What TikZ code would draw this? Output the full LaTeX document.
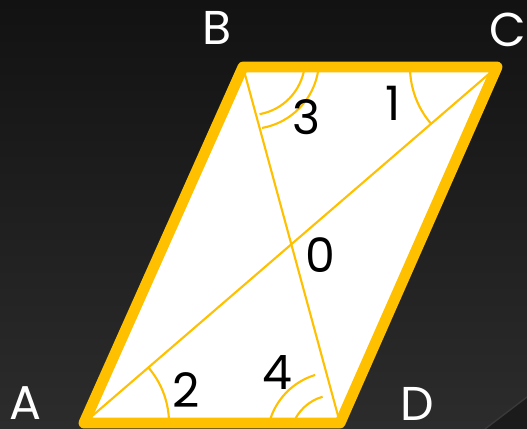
\documentclass[tikz,border=0pt]{standalone}
\usepackage{fontspec}
\setmainfont{Poppins}
\usetikzlibrary{calc}
\definecolor{rimorange}{HTML}{FFC000}
\definecolor{bgtop}{HTML}{121212}
\definecolor{bgbot}{HTML}{2C2C2C}
\definecolor{bgcorner}{HTML}{1B1B1B}
\begin{document}
\begin{tikzpicture}[
    x=0.02cm, y=0.02cm,
    vertex/.style={
        text=white, inner sep=0pt,
        font=\fontsize{27}{30}\selectfont
    },
    num/.style={
        text=black, inner sep=0pt,
        font=\fontsize{27}{30}\selectfont
    },
    diag/.style={draw=rimorange, line width=1.2pt},
    anglearc/.style={draw=rimorange, line width=1.2pt},
    rim/.style={draw=rimorange, line width=6.2pt, line join=round}
]
\useasboundingbox (0,0) rectangle (527,429);
\shade[top color=bgtop, bottom color=bgbot] (0,0) rectangle (527,429);
\fill[bgcorner] (485,0) -- (527,0) -- (527,32) -- cycle;
\draw[gray!45!black, line width=0.8pt] (485,0) -- (527,32);

\coordinate (A) at (84,6);
\coordinate (B) at (243,362);
\coordinate (C) at (497,362);
\coordinate (D) at (340,6);
\coordinate (Bc) at (250,369);
\coordinate (Dc) at (335,-11);

\fill[white] (A) -- (B) -- (C) -- (D) -- cycle;
\draw[diag] (A) -- (C);
\draw[diag] (B) -- (D);

% angle marks
\draw[anglearc] ($(A)+(0:85)$) arc[start angle=0, end angle=40.7, radius=85];
\draw[anglearc] ($(C)+(180:87)$) arc[start angle=180, end angle=220.7, radius=87];
\foreach \r in {55, 69}
  \draw[anglearc] ($(Bc)+(-8:\r)$) arc[start angle=-8, end angle=-80, radius=\r];
\draw[anglearc] ($(Dc)+(107:68)$) arc[start angle=107, end angle=165, radius=68];
\draw[anglearc] ($(Dc)+(106:45)$) arc[start angle=106, end angle=160, radius=45];

\draw[rim] (A) -- (B) -- (C) -- (D) -- cycle;

\node[vertex] (lA) at (25,26)   {A};
\node[vertex] (lB) at (217,401) {B};
\node[vertex] (lC) at (508,399) {C};
\node[vertex] (lD) at (417,25)  {D};

\node[num] (n1) at (393,326) {1};
\node[num] (n2) at (186,39)  {2};
\node[num] (n3) at (306,312) {3};
\node[num] (n4) at (277,56)  {4};
\node[num] (n0) at (320,174) {0};
\end{tikzpicture}
\end{document}
